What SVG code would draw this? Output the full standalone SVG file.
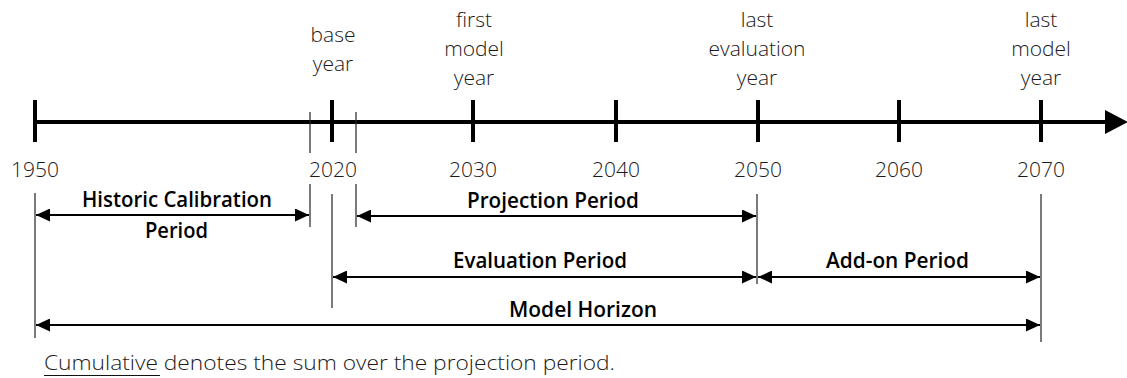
<svg xmlns="http://www.w3.org/2000/svg" width="1127" height="378" viewBox="0 0 1127 378">
  <defs>
    <style>
      .axis { stroke: #000; stroke-width: 4; fill: none; }
      .tick { stroke: #000; stroke-width: 4; }
      .guide { stroke: #222; stroke-width: 1.2; }
      .span { stroke: #000; stroke-width: 2.2; fill: none; marker-start: url(#headStart); marker-end: url(#headEnd); }
      .year { font-family: "Open Sans", "Noto Sans", sans-serif; font-weight: 300; font-size: 21px; fill: #1a1a1a; text-anchor: middle; }
      .period { font-family: "Open Sans", "Noto Sans", sans-serif; font-weight: 560; font-size: 21px; fill: #000; }
      .note { font-family: "Open Sans", "Noto Sans", sans-serif; font-weight: 300; font-size: 20px; fill: #1a1a1a; }
    </style>
    <marker id="headEnd" viewBox="0 0 14 13" refX="14" refY="6.5" markerWidth="14" markerHeight="13" markerUnits="userSpaceOnUse" orient="auto">
      <path d="M0,0 L14,6.5 L0,13 Z" fill="#000"/>
    </marker>
    <marker id="headStart" viewBox="0 0 14 13" refX="0" refY="6.5" markerWidth="14" markerHeight="13" markerUnits="userSpaceOnUse" orient="auto">
      <path d="M14,0 L0,6.5 L14,13 Z" fill="#000"/>
    </marker>
  </defs>

  <rect width="1127" height="378" fill="#fff"/>

  <!-- time axis -->
  <g id="axis">
    <line class="axis" x1="35" y1="122" x2="1108" y2="122"/>
    <path d="M1105,110 L1128,122 L1105,134 Z" fill="#000"/>
    <line class="tick" x1="35" y1="100" x2="35" y2="142"/>
    <line class="tick" x1="332" y1="100" x2="332" y2="142"/>
    <line class="tick" x1="473" y1="100" x2="473" y2="142"/>
    <line class="tick" x1="616" y1="100" x2="616" y2="142"/>
    <line class="tick" x1="758" y1="100" x2="758" y2="142"/>
    <line class="tick" x1="899" y1="100" x2="899" y2="142"/>
    <line class="tick" x1="1041" y1="100" x2="1041" y2="142"/>
    <line class="guide" x1="310" y1="112" x2="310" y2="153"/>
    <line class="guide" x1="356" y1="112" x2="356" y2="153"/>
  </g>

  <!-- year numbers -->
  <g id="years">
    <text class="year" x="35" y="177">1950</text>
    <text class="year" x="333" y="177">2020</text>
    <text class="year" x="473" y="177">2030</text>
    <text class="year" x="616" y="177">2040</text>
    <text class="year" x="758" y="177">2050</text>
    <text class="year" x="899" y="177">2060</text>
    <text class="year" x="1041" y="177">2070</text>
  </g>

  <!-- milestone captions -->
  <g id="milestone-base">
    <text class="year" x="333" y="42">base</text>
    <text class="year" x="333" y="71">year</text>
  </g>
  <g id="milestone-first">
    <text class="year" x="474" y="27">first</text>
    <text class="year" x="474" y="56">model</text>
    <text class="year" x="474" y="85">year</text>
  </g>
  <g id="milestone-last-eval">
    <text class="year" x="757" y="27">last</text>
    <text class="year" x="757" y="56">evaluation</text>
    <text class="year" x="757" y="85">year</text>
  </g>
  <g id="milestone-last-model">
    <text class="year" x="1041" y="27">last</text>
    <text class="year" x="1041" y="56">model</text>
    <text class="year" x="1041" y="85">year</text>
  </g>

  <!-- boundary guides below the axis -->
  <g id="guides">
    <line class="guide" x1="35" y1="193" x2="35" y2="338" stroke="#555"/>
    <line class="guide" x1="310" y1="184" x2="310" y2="227"/>
    <line class="guide" x1="356" y1="184" x2="356" y2="227"/>
    <line class="guide" x1="332" y1="194" x2="332" y2="308"/>
    <line class="guide" x1="757" y1="194" x2="757" y2="284"/>
    <line class="guide" x1="1041" y1="194" x2="1041" y2="342"/>
  </g>

  <!-- period spans -->
  <g id="connectors">
    <line class="span" x1="36" y1="215" x2="309" y2="215"/>
    <line class="span" x1="357" y1="216" x2="756" y2="216"/>
    <line class="span" x1="333" y1="277" x2="756" y2="277"/>
    <line class="span" x1="758" y1="277" x2="1040" y2="277"/>
    <line class="span" x1="36" y1="325" x2="1040" y2="325"/>
  </g>

  <g id="period-historic">
    <text class="period" x="82" y="207" textLength="190" lengthAdjust="spacingAndGlyphs">Historic Calibration</text>
    <text class="period" x="145" y="238" textLength="63" lengthAdjust="spacingAndGlyphs">Period</text>
  </g>
  <g id="period-projection">
    <text class="period" x="467" y="208" textLength="172" lengthAdjust="spacingAndGlyphs">Projection Period</text>
  </g>
  <g id="period-evaluation">
    <text class="period" x="453" y="268" textLength="174" lengthAdjust="spacingAndGlyphs">Evaluation Period</text>
  </g>
  <g id="period-addon">
    <text class="period" x="826" y="268" textLength="143" lengthAdjust="spacingAndGlyphs">Add-on Period</text>
  </g>
  <g id="period-horizon">
    <text class="period" x="509" y="317" textLength="148" lengthAdjust="spacingAndGlyphs">Model Horizon</text>
  </g>

  <!-- footnote -->
  <g id="footnote">
    <text class="note" x="44" y="370" textLength="571" lengthAdjust="spacingAndGlyphs">Cumulative denotes the sum over the projection period.</text>
    <line x1="44" y1="375.5" x2="160" y2="375.5" stroke="#111" stroke-width="1.2"/>
  </g>
</svg>
